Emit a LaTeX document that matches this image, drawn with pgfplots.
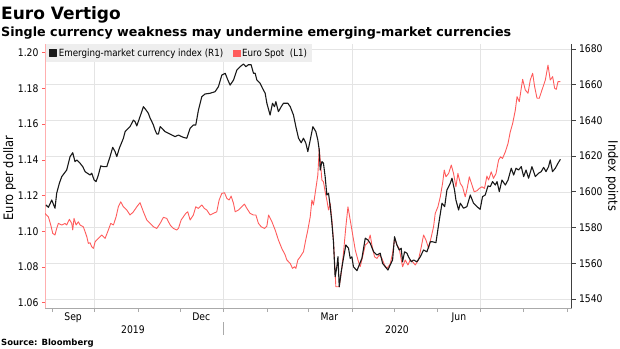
\documentclass[border=0pt]{standalone}
\usepackage{pgfplots}
\pgfplotsset{compat=1.18}
\usepackage{pgfplotstable}
\usepackage{fontspec}
\setmainfont{DejaVu Sans}
\newfontfamily\condfont{DejaVu Sans}[FakeStretch=0.88]
\definecolor{eured}{RGB}{255,92,92}
\definecolor{eupink}{RGB}{255,175,175}
\definecolor{gridc}{RGB}{228,228,228}
\definecolor{legbg}{RGB}{238,238,238}
\definecolor{axgray}{RGB}{170,170,170}

\pgfplotstableread{
d v
-4.3 1592.6
-2.6 1591.3
-0.2 1595.4
2.1 1590.8
3.3 1599.2
5.2 1604.8
6.9 1608.5
10.4 1612.2
12.8 1619.7
14.7 1621.9
16.3 1616.9
17.6 1617.8
19.9 1616.0
21.8 1614.1
23.5 1611.3
25.1 1610.4
27.0 1609.4
28.2 1610.4
29.9 1606.6
31.3 1605.7
32.9 1609.4
34.6 1614.5
36.5 1614.1
38.9 1614.1
41.2 1619.7
43.1 1624.9
44.8 1622.5
46.0 1619.7
47.8 1624.4
50.7 1630.0
51.9 1633.7
54.2 1635.6
55.4 1636.5
57.8 1640.2
59.0 1639.3
60.2 1636.9
62.5 1642.1
64.9 1647.7
66.8 1645.8
68.4 1644.0
69.7 1641.2
70.9 1639.3
72.0 1637.4
73.2 1634.6
74.4 1632.4
75.6 1632.4
76.8 1636.5
78.0 1635.6
80.3 1633.7
82.7 1632.8
85.1 1631.8
87.4 1630.9
89.8 1631.8
91.0 1631.3
93.3 1630.5
95.7 1630.0
98.1 1635.6
100.4 1637.4
102.1 1637.4
104.0 1645.8
106.4 1653.3
108.7 1654.8
112.3 1655.2
115.8 1656.1
118.2 1658.9
120.6 1665.4
123.0 1666.4
124.9 1662.6
126.5 1659.8
128.9 1662.6
131.3 1668.2
133.6 1670.1
136.0 1671.6
137.7 1670.1
139.5 1671.2
141.4 1671.2
143.1 1666.4
144.3 1666.4
145.5 1662.6
147.8 1660.8
149.5 1658.0
151.4 1655.2
152.6 1649.6
154.9 1643.0
156.6 1649.6
158.0 1647.7
159.0 1650.5
160.8 1644.9
162.8 1647.7
164.4 1649.6
167.5 1649.6
169.2 1647.7
171.5 1643.0
173.2 1636.5
175.1 1630.0
177.0 1627.5
178.6 1630.0
180.3 1627.2
181.7 1622.5
183.4 1629.0
185.3 1636.5
187.4 1633.7
188.8 1629.0
189.8 1623.4
190.5 1612.2
191.7 1616.9
192.8 1616.0
194.0 1608.5
195.2 1598.2
196.4 1599.2
197.6 1591.7
198.8 1582.4
199.9 1572.0
201.1 1552.4
202.3 1558.0
203.1 1563.6
204.0 1546.8
205.4 1555.2
207.0 1562.7
208.7 1570.2
210.6 1568.4
211.8 1562.7
213.0 1563.6
214.1 1558.0
216.6 1555.8
218.2 1559.0
220.1 1562.7
222.5 1574.0
224.4 1573.0
226.0 1571.2
228.4 1566.4
230.8 1564.6
233.1 1565.6
234.8 1559.9
236.7 1558.0
238.6 1556.2
240.2 1559.0
241.9 1561.8
243.3 1574.8
245.0 1570.2
246.6 1567.4
248.0 1568.4
249.0 1560.8
250.4 1566.4
252.1 1565.6
253.2 1563.6
255.2 1560.8
256.8 1561.8
259.2 1560.8
261.6 1563.6
263.9 1567.4
266.3 1566.4
268.7 1572.0
270.3 1572.0
272.7 1571.5
275.1 1584.2
277.0 1593.6
278.9 1591.7
280.5 1601.0
282.9 1604.8
284.1 1607.6
285.9 1601.0
286.9 1595.4
288.8 1589.8
290.0 1593.6
292.3 1590.8
294.7 1591.7
297.1 1598.2
299.4 1593.6
301.8 1591.7
304.1 1590.2
305.8 1597.3
307.7 1598.2
309.7 1603.3
311.3 1602.9
312.9 1605.7
314.9 1603.8
316.1 1605.7
317.7 1600.1
319.6 1606.6
322.0 1603.8
323.9 1606.6
326.2 1613.2
327.9 1609.4
329.6 1613.2
331.4 1612.2
333.3 1614.1
335.0 1608.5
336.7 1612.2
338.5 1607.6
340.9 1614.1
343.3 1608.5
345.6 1610.4
347.5 1611.3
349.2 1613.7
350.9 1611.3
352.7 1614.1
353.9 1617.8
355.5 1611.3
357.5 1613.2
359.4 1616.0
361.1 1618.2
}\emidx

\pgfplotstableread{
d v
-5.0 1.1100
-2.6 1.1081
-0.9 1.1035
0.5 1.0988
2.1 1.0979
3.3 1.1016
4.5 1.1044
6.9 1.1035
9.2 1.1044
10.4 1.1035
12.3 1.1067
14.0 1.1044
14.7 1.1007
15.6 1.1072
17.1 1.1035
18.7 1.1053
19.9 1.1035
22.2 1.1025
23.5 1.0997
24.7 1.0969
25.8 1.0932
27.0 1.0936
28.2 1.0913
29.4 1.0904
30.6 1.0941
32.9 1.0960
35.3 1.0979
37.7 1.0960
40.0 1.1007
41.7 1.1044
43.6 1.1035
45.5 1.1081
47.1 1.1137
48.8 1.1165
50.7 1.1137
53.1 1.1119
55.4 1.1091
57.8 1.1109
60.2 1.1137
62.5 1.1160
64.9 1.1109
67.3 1.1063
69.7 1.1044
72.0 1.1025
74.4 1.1016
76.8 1.1044
79.1 1.1078
81.5 1.1072
83.9 1.1035
86.2 1.1016
88.6 1.1007
89.8 1.1016
91.7 1.1063
93.3 1.1081
95.0 1.1100
96.4 1.1109
98.1 1.1063
100.4 1.1091
102.1 1.1137
103.9 1.1128
106.4 1.1147
108.2 1.1128
109.9 1.1119
112.3 1.1091
114.6 1.1100
117.0 1.1109
118.7 1.1175
120.6 1.1212
122.5 1.1216
124.2 1.1184
125.8 1.1175
127.2 1.1197
128.9 1.1156
130.1 1.1109
132.4 1.1119
134.8 1.1137
136.7 1.1152
138.4 1.1128
140.7 1.1100
143.1 1.1091
144.8 1.1091
146.6 1.1044
148.6 1.1025
150.9 1.1016
152.6 1.1029
153.8 1.1091
156.2 1.1053
158.5 1.1007
160.8 1.0951
163.2 1.0904
165.6 1.0867
166.8 1.0839
169.2 1.0820
170.8 1.0792
172.2 1.0801
173.2 1.0792
174.6 1.0839
176.3 1.0857
178.6 1.0885
180.2 1.0951
181.7 1.1007
183.4 1.1081
184.6 1.1175
185.7 1.1147
186.9 1.1212
188.8 1.1315
189.8 1.1464
190.5 1.1399
191.7 1.1287
192.8 1.1277
194.0 1.1221
195.2 1.1175
196.4 1.1119
197.6 1.1156
198.8 1.1063
199.9 1.0951
201.6 1.0689
204.0 1.0689
205.4 1.0764
207.0 1.0876
208.7 1.1025
210.2 1.1137
211.8 1.1063
213.4 1.0988
215.4 1.0895
217.3 1.0839
218.9 1.0801
220.6 1.0857
222.5 1.0923
224.4 1.0936
226.0 1.0979
227.2 1.0923
229.1 1.0857
230.8 1.0848
232.4 1.0867
234.3 1.0848
236.2 1.0811
237.9 1.0792
240.2 1.0816
241.9 1.0876
243.3 1.0960
245.0 1.0923
246.6 1.0904
249.0 1.0801
250.9 1.0839
252.8 1.0811
254.4 1.0839
256.1 1.0829
258.0 1.0811
260.3 1.0839
262.3 1.0913
263.9 1.0979
265.6 1.0951
267.5 1.0904
269.4 1.0969
271.0 1.1025
272.2 1.1100
274.1 1.1137
275.8 1.1193
277.4 1.1268
278.6 1.1343
279.8 1.1305
281.7 1.1324
283.6 1.1371
285.2 1.1324
286.9 1.1249
288.3 1.1324
290.0 1.1268
291.6 1.1249
293.5 1.1193
294.9 1.1240
296.4 1.1305
298.3 1.1259
299.9 1.1221
301.8 1.1227
303.5 1.1240
305.4 1.1249
307.2 1.1240
308.9 1.1309
310.1 1.1287
312.0 1.1333
313.6 1.1296
315.4 1.1324
317.2 1.1399
318.6 1.1417
320.0 1.1408
322.0 1.1445
323.9 1.1492
325.5 1.1557
327.2 1.1604
329.1 1.1679
330.3 1.1754
331.9 1.1726
333.3 1.1801
334.3 1.1851
336.2 1.1791
338.1 1.1773
339.7 1.1847
341.4 1.1885
342.8 1.1810
344.5 1.1745
346.1 1.1745
348.0 1.1791
350.4 1.1847
352.3 1.1931
353.9 1.1847
355.6 1.1866
357.0 1.1801
358.2 1.1795
359.4 1.1838
361.1 1.1838
}\eurspot

\begin{document}
\begin{tikzpicture}
\useasboundingbox (0,0) rectangle (620pt,-348pt);
\node[anchor=base west, font=\bfseries\fontsize{17}{18}\selectfont, inner sep=0] at (1pt,-19pt) {Euro Vertigo};
\node[anchor=base west, font=\bfseries\fontsize{12.7}{13}\selectfont, inner sep=0] at (1pt,-36pt) {Single currency weakness may undermine emerging-market currencies};
\node[anchor=base west, font=\bfseries\fontsize{8.5}{9}\selectfont, inner sep=0] at (1pt,-345pt) {Source: Bloomberg};
\node[rotate=90, font=\condfont\fontsize{13}{14}\selectfont, inner sep=0] at (9.5pt,-178pt) {Euro per dollar};
\node[rotate=-90, font=\condfont\fontsize{13}{14}\selectfont, inner sep=0] at (612pt,-176pt) {Index points};
\draw[axgray, line width=0.6pt] (223pt,-322pt) -- (223pt,-335pt);
\node[anchor=base, font=\condfont\fontsize{10.5}{12}\selectfont, inner sep=0] at (133pt,-333pt) {2019};
\node[anchor=base, font=\condfont\fontsize{10.5}{12}\selectfont, inner sep=0] at (397pt,-333pt) {2020};

% axis 1: right scale, grid, bottom axis, right axis
\begin{axis}[
  at={(45pt,-308pt)}, anchor=south west, scale only axis,
  width=526.5pt, height=264pt,
  xmin=-5, xmax=369, ymin=1534.9, ymax=1682.8,
  axis x line*=bottom, axis y line*=right,
  x axis line style={axgray, line width=0.6pt, -},
  y axis line style={black!75, line width=0.8pt, -},
  tick align=outside,
  xtick={15,106,197,289}, xticklabels={Sep,Dec,Mar,Jun},
  major x tick style={draw=none},
  minor xtick={0,30,61,91,122,153,182,213,243,274,304,335,366},
  minor x tick style={axgray, line width=0.6pt},
  minor tick length=4pt,
  extra x ticks={30,122,213,304}, extra x tick labels={},
  extra x tick style={grid=major, major tick length=0pt},
  ytick={1540,1560,...,1680},
  y tick style={black!75, line width=0.8pt},
  major tick length=4pt,
  ymajorgrids, major grid style={gridc, line width=0.6pt},
  tick label style={font=\condfont\fontsize{10.5}{12}\selectfont},
  x tick label style={yshift=2.5pt},
  /pgf/number format/assume math mode=true,
  /pgf/number format/1000 sep={},
]
\addplot[draw=none] coordinates {(0,1600)};
\end{axis}

% axis 2: left scale, Euro spot
\begin{axis}[
  at={(45pt,-308pt)}, anchor=south west, scale only axis,
  width=526.5pt, height=264pt,
  xmin=-5, xmax=369, ymin=1.0570, ymax=1.2049,
  axis x line=none, axis y line*=left,
  y axis line style={eupink, line width=0.6pt, -},
  tick align=outside,
  ytick={1.06,1.08,...,1.21},
  y tick style={eured, line width=0.6pt},
  major tick length=3pt,
  yticklabel style={font=\condfont\fontsize{10.5}{12}\selectfont, /pgf/number format/.cd, fixed, fixed zerofill, precision=2, assume math mode=true},
]
\addplot[eured, line width=0.9pt, line join=round] table[x=d, y=v] {\eurspot};
\end{axis}

% axis 3: right scale, EM index, legend
\begin{axis}[
  at={(45pt,-308pt)}, anchor=south west, scale only axis,
  width=526.5pt, height=264pt,
  xmin=-5, xmax=369, ymin=1534.9, ymax=1682.8,
  hide axis,
  legend columns=2,
  legend style={at={(0.002,1)}, anchor=north west, fill=legbg, draw=none,
    font=\condfont\fontsize{9.9}{10}\selectfont, inner xsep=3pt, inner ysep=2.5pt,
    /tikz/every even column/.append style={column sep=8pt}},
  legend image code/.code={\fill[#1] (0pt,-3pt) rectangle (6.5pt,3.5pt);},
  legend cell align=left,
]
\addplot[black!90, line width=1.1pt, line join=round] table[x=d, y=v] {\emidx};
\addlegendentry{Emerging-market currency index (R1)}
\addlegendimage{eured, fill=eured}
\addlegendentry{Euro Spot\ \ (L1)}
\end{axis}
\end{tikzpicture}
\end{document}
